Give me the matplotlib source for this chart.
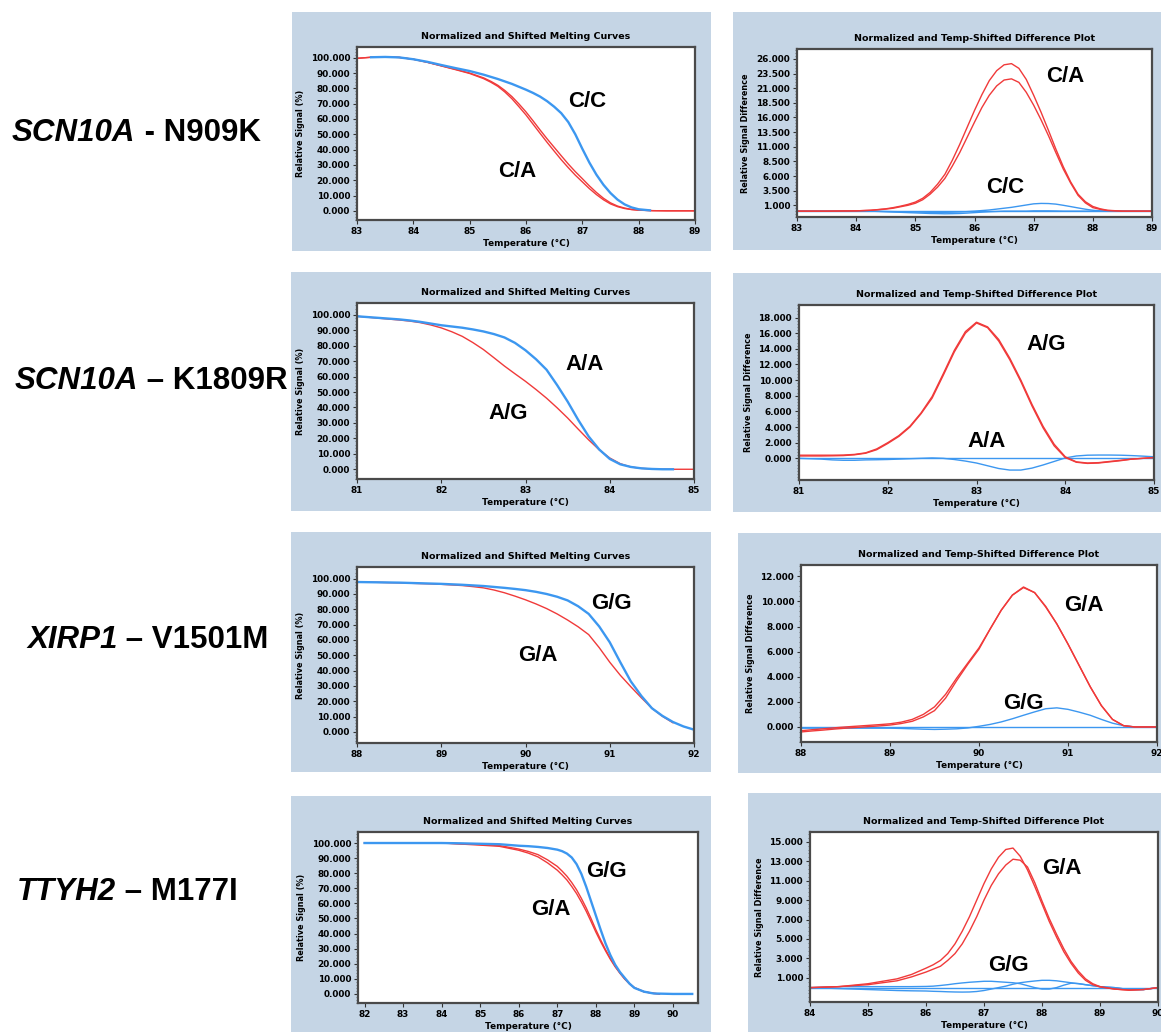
import numpy as np
import matplotlib
matplotlib.use('Agg')
import matplotlib.pyplot as plt
from matplotlib.patches import Rectangle
from matplotlib.ticker import AutoMinorLocator, FixedLocator, FormatStrFormatter

# ---------------- DATA ----------------
# Row 1: SCN10A - N909K, melting curves
m1_temp = [83.0, 83.25, 83.5, 83.75, 84.0, 84.25, 84.5, 84.75, 85.0, 85.25, 85.375, 85.5,
           85.625, 85.75, 85.875, 86.0, 86.125, 86.25, 86.375, 86.5, 86.625, 86.75, 86.875,
           87.0, 87.125, 87.25, 87.375, 87.5, 87.625, 87.75, 87.875, 88.0, 88.25, 88.5, 89.0]
m1_ca1 = [99.6, 100.3, 100.5, 100.2, 99.0, 97.0, 94.7, 92.4, 90.0, 86.8, 84.6, 82.0,
          78.6, 74.6, 69.8, 64.6, 58.8, 52.8, 47.0, 41.5, 36.0, 30.6, 25.6,
          21.0, 16.3, 12.0, 8.2, 5.2, 3.1, 1.8, 0.9, 0.5, 0.1, 0.0, 0.0]
m1_ca2 = [99.6, 100.3, 100.5, 100.2, 99.0, 97.0, 94.6, 92.2, 89.7, 86.3, 84.0, 81.3,
          77.6, 73.2, 68.0, 62.6, 56.6, 50.6, 44.7, 39.0, 33.4, 28.2, 23.3,
          18.9, 14.5, 10.6, 7.2, 4.5, 2.7, 1.5, 0.8, 0.4, 0.1, 0.0, 0.0]
m1_cc_temp = [83.25, 83.5, 83.75, 84.0, 84.25, 84.5, 84.75, 85.0, 85.25, 85.5, 85.75,
              86.0, 86.125, 86.25, 86.375, 86.5, 86.625, 86.75, 86.875, 87.0, 87.125,
              87.25, 87.375, 87.5, 87.625, 87.75, 87.875, 88.0, 88.2]
m1_cc = [100.3, 100.5, 100.2, 99.0, 97.3, 95.2, 93.2, 91.3, 88.9, 86.1, 82.9,
         79.1, 77.0, 74.6, 71.6, 68.0, 63.8, 58.0, 50.0, 40.5, 31.5,
         23.6, 17.0, 11.6, 7.3, 4.2, 2.2, 1.0, 0.3]

# Row 1: difference plot
d1_temp = [83.0, 83.5, 84.0, 84.25, 84.5, 84.625, 84.75, 84.875, 85.0, 85.125, 85.25,
           85.375, 85.5, 85.625, 85.75, 85.875, 86.0, 86.125, 86.25, 86.375, 86.5, 86.625,
           86.75, 86.875, 87.0, 87.125, 87.25, 87.375, 87.5, 87.625, 87.75, 87.875, 88.0,
           88.125, 88.25, 88.5, 89.0]
d1_ca1 = [0.0, 0.0, 0.05, 0.15, 0.4, 0.6, 0.85, 1.15, 1.55, 2.2, 3.2,
          4.6, 6.3, 8.7, 11.4, 14.3, 17.2, 19.9, 22.3, 24.0, 25.0, 25.2,
          24.4, 22.5, 19.8, 16.9, 13.8, 10.6, 7.6, 5.0, 2.9, 1.6, 0.8,
          0.4, 0.15, 0.0, 0.0]
d1_ca2 = [0.0, 0.0, 0.05, 0.15, 0.35, 0.5, 0.75, 1.0, 1.35, 1.95, 2.9,
          4.1, 5.6, 7.7, 10.0, 12.6, 15.2, 17.7, 19.8, 21.4, 22.4, 22.6,
          22.0, 20.3, 18.1, 15.6, 12.9, 10.0, 7.2, 4.8, 2.7, 1.4, 0.6,
          0.3, 0.1, 0.0, 0.0]
d1_cc1 = [0.0, 0.0, 0.0, 0.0, -0.05, -0.08, -0.1, -0.12, -0.15, -0.18, -0.2,
          -0.2, -0.2, -0.18, -0.15, -0.08, 0.0, 0.1, 0.2, 0.35, 0.5, 0.65,
          0.85, 1.05, 1.25, 1.32, 1.3, 1.2, 1.0, 0.78, 0.55, 0.33, 0.15,
          0.05, 0.0, 0.0, 0.0]
d1_cc2 = [0.0, 0.0, 0.0, 0.0, -0.1, -0.15, -0.2, -0.25, -0.3, -0.35, -0.4,
          -0.42, -0.45, -0.43, -0.4, -0.33, -0.25, -0.17, -0.1, -0.05, 0.0, 0.0,
          0.0, 0.0, 0.05, 0.05, 0.05, 0.03, 0.0, 0.0, 0.0, 0.0, 0.0,
          0.0, 0.0, 0.0, 0.0]
d1_ref_temp = [83.0, 89.0]
d1_ref = [0.0, 0.0]

# Row 2: SCN10A - K1809R, melting curves
m2_temp = [81.0, 81.125, 81.25, 81.375, 81.5, 81.625, 81.75, 81.875, 82.0, 82.125, 82.25,
           82.375, 82.5, 82.625, 82.75, 82.875, 83.0, 83.125, 83.25, 83.375, 83.5, 83.625,
           83.75, 83.875, 84.0, 84.125, 84.25, 84.375, 84.5, 84.625, 84.75, 84.875, 85.0]
m2_ag = [99.0, 98.4, 97.8, 97.2, 96.6, 95.9, 94.9, 93.4, 91.5, 89.0, 86.0,
         82.0, 77.5, 72.2, 66.8, 61.8, 56.9, 51.6, 46.0, 39.8, 33.2, 26.0,
         19.0, 12.6, 7.3, 3.6, 1.5, 0.6, 0.2, 0.1, 0.0, 0.0, 0.0]
m2_aa_temp = [81.0, 81.125, 81.25, 81.375, 81.5, 81.625, 81.75, 81.875, 82.0, 82.125, 82.25,
              82.375, 82.5, 82.625, 82.75, 82.875, 83.0, 83.125, 83.25, 83.375, 83.5, 83.625,
              83.75, 83.875, 84.0, 84.125, 84.25, 84.375, 84.5, 84.625, 84.75]
m2_aa = [99.0, 98.5, 98.0, 97.5, 97.0, 96.3, 95.4, 94.3, 93.2, 92.4, 91.6,
         90.5, 89.2, 87.5, 85.3, 81.8, 77.0, 71.2, 64.4, 54.5, 43.8, 32.0,
         21.2, 12.8, 6.7, 3.2, 1.5, 0.6, 0.2, 0.0, 0.0]

# Row 2: difference plot
d2_temp = m2_temp
d2_ag1 = [0.4, 0.4, 0.4, 0.4, 0.42, 0.5, 0.7, 1.2, 2.0, 2.9, 4.1,
          5.8, 7.9, 10.8, 13.8, 16.2, 17.4, 16.8, 15.2, 12.8, 10.0, 6.9,
          4.1, 1.8, 0.2, -0.45, -0.6, -0.55, -0.4, -0.25, -0.1, 0.0, 0.1]
d2_ag2 = [0.3, 0.3, 0.3, 0.32, 0.35, 0.45, 0.65, 1.1, 1.9, 2.8, 4.0,
          5.7, 7.7, 10.6, 13.6, 16.0, 17.3, 16.7, 15.0, 12.6, 9.8, 6.7,
          3.9, 1.6, 0.1, -0.5, -0.65, -0.6, -0.45, -0.3, -0.1, 0.0, 0.1]
d2_aa1 = [0.0, -0.05, -0.1, -0.2, -0.25, -0.25, -0.2, -0.18, -0.15, -0.1, -0.05,
          0.0, 0.05, 0.0, -0.15, -0.35, -0.6, -0.95, -1.3, -1.5, -1.5, -1.25,
          -0.85, -0.4, 0.05, 0.3, 0.4, 0.42, 0.42, 0.4, 0.35, 0.28, 0.2]
d2_ref_temp = [81.0, 85.0]
d2_ref = [0.0, 0.0]

# Row 3: XIRP1 - V1501M, melting curves
m3_temp = [88.0, 88.125, 88.25, 88.375, 88.5, 88.625, 88.75, 88.875, 89.0, 89.125, 89.25,
           89.375, 89.5, 89.625, 89.75, 89.875, 90.0, 90.125, 90.25, 90.375, 90.5, 90.625,
           90.75, 90.875, 91.0, 91.125, 91.25, 91.375, 91.5, 91.625, 91.75, 91.875, 92.0]
m3_gg = [97.8, 97.7, 97.6, 97.5, 97.4, 97.2, 97.0, 96.8, 96.6, 96.3, 96.0,
         95.6, 95.2, 94.6, 94.0, 93.3, 92.5, 91.4, 90.0, 88.2, 85.8, 82.0,
         77.0, 68.8, 58.5, 45.5, 33.0, 23.5, 15.5, 10.5, 6.5, 3.6, 1.5]
m3_ga_temp = [88.0, 88.125, 88.25, 88.375, 88.5, 88.625, 88.75, 88.875, 89.0, 89.125, 89.25,
              89.375, 89.5, 89.625, 89.75, 89.875, 90.0, 90.125, 90.25, 90.375, 90.5, 90.625,
              90.75, 90.875, 91.0, 91.125, 91.25, 91.375, 91.5, 91.625, 91.75]
m3_ga = [97.8, 97.7, 97.6, 97.4, 97.3, 97.0, 96.8, 96.6, 96.3, 95.9, 95.5,
         94.8, 94.0, 92.6, 90.8, 88.6, 86.2, 83.5, 80.5, 77.0, 73.0, 68.6,
         63.5, 55.0, 45.5, 37.0, 29.5, 22.3, 15.5, 10.2, 6.0]

# Row 3: difference plot
d3_temp = m3_temp
d3_ga1 = [-0.3, -0.22, -0.15, -0.07, 0.0, 0.06, 0.12, 0.18, 0.25, 0.38, 0.6,
          1.0, 1.6, 2.6, 3.9, 5.1, 6.3, 7.8, 9.3, 10.5, 11.1, 10.7,
          9.6, 8.2, 6.6, 4.9, 3.2, 1.7, 0.6, 0.1, 0.0, 0.0, 0.0]
d3_ga2 = [-0.4, -0.32, -0.25, -0.17, -0.1, -0.04, 0.02, 0.08, 0.15, 0.27, 0.45,
          0.8, 1.3, 2.3, 3.7, 5.0, 6.2, 7.8, 9.3, 10.5, 11.15, 10.7,
          9.55, 8.2, 6.6, 4.9, 3.2, 1.7, 0.6, 0.1, 0.0, 0.0, 0.0]
d3_gg1 = [-0.1, -0.1, -0.1, -0.1, -0.1, -0.1, -0.1, -0.1, -0.1, -0.12, -0.15,
          -0.18, -0.2, -0.18, -0.15, -0.08, 0.05, 0.2, 0.4, 0.65, 0.93, 1.2,
          1.45, 1.52, 1.4, 1.18, 0.93, 0.6, 0.3, 0.1, 0.0, 0.0, 0.0]
d3_ref_temp = [88.0, 92.0]
d3_ref = [0.0, 0.0]

# Row 4: TTYH2 - M177I, melting curves
m4_temp = [82.0, 83.0, 84.0, 84.5, 85.0, 85.5, 86.0, 86.25, 86.5, 86.75, 87.0, 87.125,
           87.25, 87.375, 87.5, 87.625, 87.75, 87.875, 88.0, 88.125, 88.25, 88.375, 88.5,
           88.625, 88.75, 88.875, 89.0, 89.25, 89.5, 90.0, 90.5]
m4_gg = [100.0, 100.0, 100.0, 99.8, 99.5, 99.2, 98.2, 97.9, 97.4, 96.7, 95.6, 94.6,
         93.0, 90.4, 86.0, 79.5, 71.0, 61.5, 52.0, 42.5, 33.5, 25.8, 19.4,
         14.5, 10.6, 6.8, 4.0, 1.5, 0.3, 0.0, 0.0]
m4_ga_temp = [82.0, 83.0, 84.0, 84.5, 85.0, 85.5, 86.0, 86.25, 86.5, 86.75, 87.0, 87.125,
              87.25, 87.375, 87.5, 87.625, 87.75, 87.875, 88.0, 88.125, 88.25, 88.375, 88.5,
              88.625, 88.75, 88.875, 89.0, 89.25, 89.5, 89.65]
m4_ga1 = [100.0, 100.0, 100.0, 99.5, 99.0, 98.3, 96.0, 94.4, 92.3, 88.8, 84.5, 81.4,
          78.0, 73.8, 69.0, 63.3, 57.0, 50.0, 42.6, 35.8, 29.4, 23.6, 18.5,
          14.0, 10.0, 6.8, 4.2, 1.5, 0.4, 0.0]
m4_ga2 = [100.0, 100.0, 100.0, 99.3, 98.6, 97.8, 95.2, 93.3, 90.8, 86.8, 82.0, 78.9,
          75.5, 71.2, 66.5, 60.9, 54.8, 48.0, 41.0, 34.6, 28.6, 23.0, 18.0,
          13.7, 9.8, 6.6, 4.1, 1.4, 0.4, 0.0]

# Row 4: difference plot
d4_temp = [84.0, 84.5, 85.0, 85.5, 85.75, 86.0, 86.125, 86.25, 86.375, 86.5, 86.625,
           86.75, 86.875, 87.0, 87.125, 87.25, 87.375, 87.5, 87.625, 87.75, 87.875, 88.0,
           88.125, 88.25, 88.375, 88.5, 88.625, 88.75, 88.875, 89.0, 89.25, 89.5, 89.75, 90.0]
d4_ga1 = [0.0, 0.1, 0.4, 0.9, 1.35, 2.0, 2.35, 2.8, 3.5, 4.5, 5.8,
          7.3, 9.0, 10.7, 12.2, 13.4, 14.2, 14.35, 13.5, 12.1, 10.4, 8.6,
          6.8, 5.2, 3.7, 2.5, 1.5, 0.75, 0.3, 0.07, -0.15, -0.27, -0.2, 0.0]
d4_ga2 = [0.0, 0.1, 0.3, 0.7, 1.1, 1.6, 1.9, 2.2, 2.8, 3.5, 4.5,
          5.8, 7.3, 9.0, 10.5, 11.7, 12.6, 13.2, 13.1, 12.4, 10.8, 8.9,
          7.1, 5.5, 4.0, 2.7, 1.7, 0.9, 0.4, 0.1, -0.15, -0.25, -0.2, 0.0]
d4_gg1 = [0.0, 0.1, 0.1, 0.1, 0.1, 0.12, 0.15, 0.22, 0.3, 0.4, 0.48,
          0.55, 0.6, 0.65, 0.65, 0.6, 0.55, 0.5, 0.4, 0.2, 0.0, -0.15,
          -0.15, 0.0, 0.25, 0.45, 0.42, 0.3, 0.2, 0.1, 0.0, -0.2, -0.2, 0.0]
d4_gg2 = [0.0, -0.1, -0.2, -0.3, -0.33, -0.35, -0.38, -0.4, -0.43, -0.45, -0.46,
          -0.45, -0.4, -0.3, -0.15, 0.0, 0.15, 0.35, 0.5, 0.6, 0.68, 0.75,
          0.75, 0.7, 0.6, 0.5, 0.4, 0.3, 0.2, 0.1, 0.0, -0.2, -0.2, 0.0]
d4_ref_temp = [84.0, 90.0]
d4_ref = [0.0, 0.0]

# Tick values
m1_xticks = [83, 84, 85, 86, 87, 88, 89]
m2_xticks = [81, 82, 83, 84, 85]
m3_xticks = [88, 89, 90, 91, 92]
m4_xticks = [82, 83, 84, 85, 86, 87, 88, 89, 90]
d4_xticks = [84, 85, 86, 87, 88, 89, 90]
melt_yticks = [0, 10, 20, 30, 40, 50, 60, 70, 80, 90, 100]
d1_yticks = [1.0, 3.5, 6.0, 8.5, 11.0, 13.5, 16.0, 18.5, 21.0, 23.5, 26.0]
d2_yticks = [0, 2, 4, 6, 8, 10, 12, 14, 16, 18]
d3_yticks = [0, 2, 4, 6, 8, 10, 12]
d4_yticks = [1, 3, 5, 7, 9, 11, 13, 15]

row_labels_italic = ['SCN10A', 'SCN10A', 'XIRP1', 'TTYH2']
row_labels_rest = [' - N909K', ' – K1809R', ' – V1501M', ' – M177I']

# ---------------- STYLE / LAYOUT ----------------
W, H = 1161, 1032
RED = '#f03a3a'
BLUE = '#3c97f0'
BOXC = '#c5d5e5'
PANEL_FONT = 'DejaVu Sans'
LABEL_FONT = 'Liberation Sans'

fig = plt.figure(figsize=(W / 100, H / 100), dpi=100)
fig.patch.set_facecolor('white')
bg = fig.add_axes([0, 0, 1, 1])
bg.set_xlim(0, W)
bg.set_ylim(H, 0)
bg.axis('off')

boxes = [(292, 12, 711, 251), (733, 12, 1161, 250),
         (291, 272, 711, 511), (733, 273, 1161, 512),
         (291, 532, 711, 772), (738, 533, 1161, 773),
         (291, 796, 711, 1032), (748, 793, 1161, 1032)]
for (x0, y0, x1, y1) in boxes:
    bg.add_patch(Rectangle((x0, y0), x1 - x0, y1 - y0, facecolor=BOXC, edgecolor='none'))


def add_axes_px(x0, y0, x1, y1):
    return fig.add_axes([x0 / W, 1 - y1 / H, (x1 - x0) / W, (y1 - y0) / H])


def style(ax, xlim, ylim, xticks, yticks, title, ylabel):
    ax.set_xlim(*xlim)
    ax.set_ylim(*ylim)
    ax.xaxis.set_major_locator(FixedLocator(xticks))
    ax.yaxis.set_major_locator(FixedLocator(yticks))
    ax.yaxis.set_minor_locator(AutoMinorLocator(5))
    ax.yaxis.set_major_formatter(FormatStrFormatter('%.3f'))
    ax.xaxis.set_major_formatter(FormatStrFormatter('%d'))
    for lab in ax.get_xticklabels() + ax.get_yticklabels():
        lab.set_fontfamily(PANEL_FONT)
        lab.set_fontweight('bold')
        lab.set_fontsize(6.4)
    ax.tick_params(axis='both', which='major', direction='out', length=3, width=0.8,
                   color='#333333', pad=2)
    ax.tick_params(axis='y', which='minor', direction='out', length=1.5, width=0.5,
                   color='#555555')
    for s in ax.spines.values():
        s.set_color('#4a4a4a')
        s.set_linewidth(1.6)
    ax.set_title(title, fontsize=6.8, fontweight='bold', family=PANEL_FONT, pad=6)
    ax.set_xlabel('Temperature (°C)', fontsize=6.4, fontweight='bold', family=PANEL_FONT,
                  labelpad=2)
    ax.set_ylabel(ylabel, fontsize=5.9, fontweight='bold', family=PANEL_FONT, labelpad=4)


def glabel(ax, x, y, s):
    ax.text(x, y, s, ha='center', va='center', fontsize=16, fontweight='bold',
            family=LABEL_FONT)


MELT_T = 'Normalized and Shifted Melting Curves'
DIFF_T = 'Normalized and Temp-Shifted Difference Plot'
MELT_Y = 'Relative Signal (%)'
DIFF_Y = 'Relative Signal Difference'
LW_R = 1.0
LW_B = 1.0
LW_BM = 1.7

# Row 1
ax = add_axes_px(357, 47, 695, 220)
ax.plot(m1_temp, m1_ca1, color=RED, lw=LW_R)
ax.plot(m1_temp, m1_ca2, color=RED, lw=LW_R)
ax.plot(m1_cc_temp, m1_cc, color=BLUE, lw=LW_BM)
style(ax, (83, 89), (-6, 107), m1_xticks, melt_yticks, MELT_T, MELT_Y)
glabel(ax, 87.08, 71.6, 'C/C')
glabel(ax, 85.84, 25.8, 'C/A')

ax = add_axes_px(797, 49, 1152, 217)
ax.plot(d1_ref_temp, d1_ref, color=BLUE, lw=LW_B)
ax.plot(d1_temp, d1_cc2, color=BLUE, lw=LW_B)
ax.plot(d1_temp, d1_cc1, color=BLUE, lw=LW_B)
ax.plot(d1_temp, d1_ca1, color=RED, lw=LW_R)
ax.plot(d1_temp, d1_ca2, color=RED, lw=LW_R)
style(ax, (83, 89), (-1.0, 27.7), m1_xticks, d1_yticks, DIFF_T, DIFF_Y)
glabel(ax, 87.53, 23.0, 'C/A')
glabel(ax, 86.52, 4.1, 'C/C')

# Row 2
ax = add_axes_px(357, 303, 694, 479)
ax.plot(m2_temp, m2_ag, color=RED, lw=LW_R)
ax.plot(m2_aa_temp, m2_aa, color=BLUE, lw=LW_BM)
style(ax, (81, 85), (-6.3, 107.6), m2_xticks, melt_yticks, MELT_T, MELT_Y)
glabel(ax, 83.70, 67.6, 'A/A')
glabel(ax, 82.79, 36.3, 'A/G')

ax = add_axes_px(799, 305, 1154, 480)
ax.plot(d2_ref_temp, d2_ref, color=BLUE, lw=LW_B)
ax.plot(d2_temp, d2_aa1, color=BLUE, lw=LW_B)
ax.plot(d2_temp, d2_ag1, color=RED, lw=LW_R)
ax.plot(d2_temp, d2_ag2, color=RED, lw=LW_R)
style(ax, (81, 85), (-2.77, 19.6), m2_xticks, d2_yticks, DIFF_T, DIFF_Y)
glabel(ax, 83.79, 14.5, 'A/G')
glabel(ax, 83.11, 2.1, 'A/A')

# Row 3
ax = add_axes_px(357, 567, 694, 743)
ax.plot(m3_ga_temp, m3_ga, color=RED, lw=LW_R)
ax.plot(m3_temp, m3_gg, color=BLUE, lw=LW_BM)
style(ax, (88, 92), (-7.2, 107.6), m3_xticks, melt_yticks, MELT_T, MELT_Y)
glabel(ax, 91.02, 84.0, 'G/G')
glabel(ax, 90.15, 49.6, 'G/A')

ax = add_axes_px(801, 565, 1157, 742)
ax.plot(d3_ref_temp, d3_ref, color=BLUE, lw=LW_B)
ax.plot(d3_temp, d3_gg1, color=BLUE, lw=LW_B)
ax.plot(d3_temp, d3_ga1, color=RED, lw=LW_R)
ax.plot(d3_temp, d3_ga2, color=RED, lw=LW_R)
style(ax, (88, 92), (-1.2, 12.9), m3_xticks, d3_yticks, DIFF_T, DIFF_Y)
glabel(ax, 91.18, 9.7, 'G/A')
glabel(ax, 90.5, 1.86, 'G/G')

# Row 4
ax = add_axes_px(358, 832, 698, 1003)
ax.plot(m4_ga_temp, m4_ga1, color=RED, lw=LW_R)
ax.plot(m4_ga_temp, m4_ga2, color=RED, lw=LW_R)
ax.plot(m4_temp, m4_gg, color=BLUE, lw=LW_BM)
style(ax, (81.83, 90.65), (-6, 107.3), m4_xticks, melt_yticks, MELT_T, MELT_Y)
glabel(ax, 88.27, 81.2, 'G/G')
glabel(ax, 86.84, 55.8, 'G/A')

ax = add_axes_px(810, 832, 1158, 1002)
ax.plot(d4_ref_temp, d4_ref, color=BLUE, lw=LW_B)
ax.plot(d4_temp, d4_gg1, color=BLUE, lw=LW_B)
ax.plot(d4_temp, d4_gg2, color=BLUE, lw=LW_B)
ax.plot(d4_temp, d4_ga1, color=RED, lw=LW_R)
ax.plot(d4_temp, d4_ga2, color=RED, lw=LW_R)
style(ax, (84, 90), (-1.48, 16.0), d4_xticks, d4_yticks, DIFF_T, DIFF_Y)
glabel(ax, 88.34, 12.25, 'G/A')
glabel(ax, 87.42, 2.3, 'G/G')

# Row labels (gene italic + variant)
label_pos = [(12, 133), (15, 381), (27, 640), (17, 892)]
for (x, y), it, rest in zip(label_pos, row_labels_italic, row_labels_rest):
    t1 = bg.text(x, y, it, ha='left', va='center', fontsize=22.5, fontweight='bold',
                 fontstyle='italic', family=LABEL_FONT)
    bg.annotate(rest, xy=(1, 0), xycoords=t1, ha='left', va='bottom', fontsize=22.5,
                fontweight='bold', family=LABEL_FONT)

fig.savefig('out.png', dpi=100, facecolor='white')
